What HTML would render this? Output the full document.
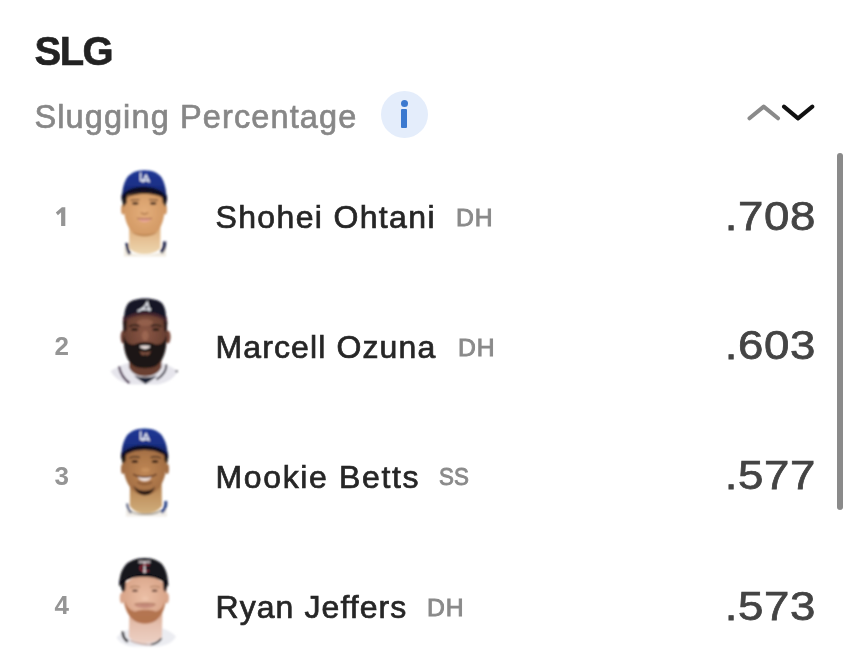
<!DOCTYPE html>
<html>
<head>
<meta charset="utf-8">
<title>SLG</title>
<style>
html,body{margin:0;padding:0;background:#fff;}
body{width:850px;height:664px;position:relative;overflow:hidden;font-family:"Liberation Sans",sans-serif;}
.t{position:absolute;white-space:nowrap;line-height:1;margin:0;padding:0;}
#title{left:34.6px;top:30.6px;font-size:40px;font-weight:bold;color:#222;letter-spacing:-1.6px;-webkit-text-stroke:0.6px #222;}
#sub{left:34.4px;top:100.7px;font-size:32.5px;color:#878787;-webkit-text-stroke:0.65px #878787;letter-spacing:1.12px;}
#info{position:absolute;left:380.6px;top:90.8px;width:47.4px;height:47.4px;border-radius:50%;background:#e4edfb;}
#info i{position:absolute;left:20.6px;top:18.4px;width:6px;height:19px;background:#3b79cf;border-radius:1px;}
#info b{position:absolute;left:20px;top:9.2px;width:7.2px;height:7.2px;border-radius:50%;background:#3b79cf;}
#arrows{position:absolute;left:740px;top:98px;}
#scroll{position:absolute;left:837px;top:153px;width:6px;height:357px;border-radius:3px;background:#8a8a8a;}
.rank{font-size:26px;font-weight:bold;color:#959595;left:54.6px;}
.name{font-size:32px;color:#262626;left:215.5px;-webkit-text-stroke:0.7px #262626;letter-spacing:1.35px;}
.pos{font-size:23.5px;color:#8a8a8a;letter-spacing:1px;transform:scaleX(1.05);transform-origin:0 0;-webkit-text-stroke:0.9px #8a8a8a;}
.val{font-size:41.5px;color:#444;-webkit-text-stroke:0.75px #444;letter-spacing:0.6px;right:34px;transform:scaleX(1.1);transform-origin:100% 0;}
.t,#arrows,#info,#r1{filter:blur(0.45px);}
</style>
</head>
<body>
<div class="t" id="title">SLG</div>
<div class="t" id="sub">Slugging Percentage</div>
<div id="info"><b></b><i></i></div>
<svg id="arrows" width="90" height="40" viewBox="740 98 90 40">
  <polyline points="749.5,118.3 763.7,106.6 778,118.3" fill="none" stroke="#8a8a8a" stroke-width="4" stroke-linecap="round" stroke-linejoin="round"/>
  <polyline points="784,106.6 798,118.4 812.3,106.6" fill="none" stroke="#111" stroke-width="4" stroke-linecap="round" stroke-linejoin="round"/>
</svg>
<div id="scroll"></div>

<svg id="r1" width="30" height="40" viewBox="45 195 30 40" style="position:absolute;left:45px;top:195px"><path d="M65.3,207.3 L65.3,226 L61.1,226 L61.1,212.3 L57.9,215.3 L55.8,212.5 L61.9,207.3 Z" fill="#959595"/></svg>
<div class="t name" id="n1" style="top:201px">Shohei Ohtani</div>
<div class="t pos" id="p1" style="top:207.2px;left:455.8px">DH</div>
<div class="t val" id="v1" style="top:195px">.708</div>

<div class="t rank" id="r2" style="top:333px">2</div>
<div class="t name" id="n2" style="top:331px;letter-spacing:1.12px">Marcell Ozuna</div>
<div class="t pos" id="p2" style="top:337.2px;left:458px">DH</div>
<div class="t val" id="v2" style="top:324.4px">.603</div>

<div class="t rank" id="r3" style="top:463px">3</div>
<div class="t name" id="n3" style="top:461px;letter-spacing:1.65px">Mookie Betts</div>
<div class="t pos" id="p3" style="top:466.4px;left:439.3px;letter-spacing:0;transform:scaleX(0.95)">SS</div>
<div class="t val" id="v3" style="top:454.3px">.577</div>

<div class="t rank" id="r4" style="top:592.3px">4</div>
<div class="t name" id="n4" style="top:591px;letter-spacing:1.07px">Ryan Jeffers</div>
<div class="t pos" id="p4" style="top:597px;left:426.6px">DH</div>
<div class="t val" id="v4" style="top:584.5px">.573</div>
<svg id="heads" width="850" height="664" viewBox="0 0 850 664" style="position:absolute;left:0;top:0;pointer-events:none">
<defs>
  <filter id="bl" x="-10%" y="-10%" width="120%" height="120%"><feGaussianBlur stdDeviation="0.8"/></filter>
  <filter id="bl2" x="-10%" y="-10%" width="120%" height="120%"><feGaussianBlur stdDeviation="1.4"/></filter>
  <radialGradient id="sk1" cx="0.5" cy="0.5" r="0.6"><stop offset="0" stop-color="#e4ae7b"/><stop offset="1" stop-color="#cf9560"/></radialGradient>
  <linearGradient id="nk1" x1="0" y1="0" x2="0" y2="1"><stop offset="0" stop-color="#d9a775"/><stop offset="0.45" stop-color="#e4bc8e"/><stop offset="1" stop-color="#edd6b0"/></linearGradient>
  <linearGradient id="cp1" x1="0" y1="0" x2="0" y2="1"><stop offset="0" stop-color="#1e3794"/><stop offset="0.55" stop-color="#1a3088"/><stop offset="1" stop-color="#101e56"/></linearGradient>
  <radialGradient id="sk2" cx="0.5" cy="0.4" r="0.6"><stop offset="0" stop-color="#8c5846"/><stop offset="1" stop-color="#5f392c"/></radialGradient>
  <radialGradient id="sk3" cx="0.5" cy="0.5" r="0.6"><stop offset="0" stop-color="#bf8755"/><stop offset="1" stop-color="#9c683f"/></radialGradient>
  <linearGradient id="nk3" x1="0" y1="0" x2="0" y2="1"><stop offset="0" stop-color="#a97648"/><stop offset="0.4" stop-color="#c09260"/><stop offset="1" stop-color="#d0ae7c"/></linearGradient>
  <radialGradient id="sk4" cx="0.5" cy="0.45" r="0.6"><stop offset="0" stop-color="#ebbfa6"/><stop offset="1" stop-color="#d6a084"/></radialGradient>
  <linearGradient id="nk4" x1="0" y1="0" x2="0" y2="1"><stop offset="0" stop-color="#d9a98f"/><stop offset="0.4" stop-color="#e4bfad"/><stop offset="1" stop-color="#ecd0c4"/></linearGradient>
</defs>

<!-- 1: Ohtani -->
<g filter="url(#bl)">
  <path d="M127,251 C133,256 155,256 162,251 L166,246 L166,256.5 L124,256.5 L124,246 Z" fill="#f1ebe0"/>
  <path d="M126.8,243 C126.8,248 127.8,251.5 130,254" stroke="#2a2d52" stroke-width="3" fill="none"/>
  <path d="M164.6,241.5 C164.8,247 163.6,250 161,252.5" stroke="#2a2d52" stroke-width="3.4" fill="none"/>
  <path d="M129.2,222 L129.2,248 C135,256 154,256 160.4,248 L160.4,222 Z" fill="url(#nk1)"/>
  <ellipse cx="123" cy="209.5" rx="1.9" ry="5" fill="#cf9562"/>
  <ellipse cx="165.2" cy="209.5" rx="1.7" ry="5" fill="#cf9562"/>
  <path d="M123.5,199 C123,214 126,225 131,230.5 C135,235 140,236.5 144.7,236.5 C149.5,236.5 154,235 158,230.5 C163,225 165.5,214 164.8,199 C155,185 133,185 123.5,199 Z" fill="url(#sk1)"/>
  <path d="M131,231.5 C136,237.5 153,237.5 158,231.5 C153,235.5 136,235.5 131,231.5 Z" fill="#b98453"/>
  <path d="M121.6,196 L127.5,192 L126.6,203 L123.2,207 Z" fill="#241c1b"/>
  <path d="M161.5,192 L166.9,197 L165.8,207 L162.8,203 Z" fill="#241c1b"/>
  <path d="M126,198.5 C132,188.5 157,188.5 163,198.5 C157,192.5 132,192.5 126,198.5 Z" fill="#3a261c"/>
  <ellipse cx="135.3" cy="203.4" rx="3.2" ry="1.4" fill="#4e3122"/>
  <ellipse cx="153.2" cy="203.4" rx="3.2" ry="1.4" fill="#4e3122"/>
  <path d="M130.5,200.2 L139.5,199.6 M149,199.6 L158,200.2" stroke="#7a5236" stroke-width="1.2"/>
  <path d="M141,212.6 C142.5,214.6 146.5,214.6 148,212.6" stroke="#b07a4d" stroke-width="1.6" fill="none"/>
  <path d="M137.6,218.6 C141,217.6 148,217.6 151.6,218.6 C149,223.4 140,223.4 137.6,218.6 Z" fill="#e9a796"/>
  <path d="M137.2,218.4 C141,219.2 148,219.2 152,218.4" stroke="#9a5a45" stroke-width="1" fill="none"/>
  <path d="M121.6,201 C128,188.8 160,188.8 167,202 L167,196 C160,180 128,180 121.6,195 Z" fill="#0d1024"/>
  <path d="M122.1,196.5 C122.4,188 124,183 126,179.5 C129,173.5 136,170.3 144.5,170.3 C153,170.3 160,173.5 162.6,179.5 C164.6,183.5 166.2,189 166.5,197.5 C160,183 128,183 122.1,196.5 Z" fill="url(#cp1)"/>
  <path d="M140.6,172.6 L140.6,180.6 L144,180.6" stroke="#eef1fa" stroke-width="1.5" fill="none"/>
  <path d="M142.6,182.4 L146,175.2 L149.4,182.4 M143.4,180.6 L149,180.6" stroke="#eef1fa" stroke-width="1.5" fill="none"/>
</g>

<!-- 2: Ozuna -->
<g filter="url(#bl)">
  <path d="M110.5,371 C117,366.5 124,364 130,362.5 L160,362.5 C166,364 172,367 177.8,371 C175,377.5 168,382.5 158,384.5 L131,384.5 C121,382.5 113.5,377.5 110.5,371 Z" fill="#e6e5ec"/>
  <path d="M119,366.5 C120.5,374 124.5,379.5 129.5,383" stroke="#432a48" stroke-width="2.2" fill="none"/>
  <path d="M166.3,364.5 C166.5,371 162.5,376 156.5,379.5" stroke="#2a2836" stroke-width="2" fill="none"/>
  <circle cx="176.6" cy="371.3" r="1.1" fill="#3a3a44"/>
  <path d="M134,375.5 C138,379 141,381 145.5,384 C150,381 153.5,379 157,375.5 C151,378 140,378 134,375.5 Z" fill="#1d2236"/>
  <path d="M129.3,355 L129,367.5 C134,379.5 156,379.5 161.5,367.5 L161.5,355 Z" fill="#6b4131"/>
  <ellipse cx="123" cy="337" rx="2.4" ry="6.5" fill="#74463a"/>
  <ellipse cx="168" cy="337" rx="2.6" ry="6.5" fill="#7a4a3a"/>
  <path d="M124,320 C122.5,334 124,350 131,360 C137,367 153,367 159,360 C166,350 168,334 166.5,320 C156,309 134,309 124,320 Z" fill="url(#sk2)"/>
  <ellipse cx="145" cy="322.5" rx="8" ry="3.5" fill="#a26b55" opacity="0.6"/>
  <ellipse cx="145.2" cy="336" rx="3.3" ry="5" fill="#a06a55" opacity="0.8"/>
  <path d="M123.6,334 C123,350 126,359 132.5,365 C138,369.3 152,369.3 157.5,365 C164,359 167,350 166.6,334 C165,342 161,345.5 155,344.5 C151,341.5 139,341.5 135,344.5 C129,345.5 125,342 123.6,334 Z" fill="#1a1212"/>
  <path d="M139.6,346.3 C142,345.2 148,345.2 150.4,346.3 C148.5,349.8 141.5,349.8 139.6,346.3 Z" fill="#efe3e1"/>
  <path d="M139.5,351 C141,355.5 143.5,357 145,354 C146.5,357 149.5,355.5 151,351 C148,352.5 142.5,352.5 139.5,351Z" fill="#7a4e3e"/>
  <ellipse cx="134.6" cy="329.6" rx="3.4" ry="1.5" fill="#2a1a16"/>
  <ellipse cx="155.8" cy="329.6" rx="3.4" ry="1.5" fill="#2a1a16"/>
  <path d="M129,326.5 C132,324.8 136,324.8 139.5,326 M151,326 C154.5,324.8 158.5,324.8 161.5,326.5" stroke="#2b1a17" stroke-width="1.6" fill="none"/>
  <path d="M122.8,321 L127,318 L126.6,330 L123.6,333 Z" fill="#2a1a1a"/>
  <path d="M163.5,318 L167.4,321 L166.8,333 L164,330 Z" fill="#2a1a1a"/>
  <path d="M122.8,323.5 C130,312.5 160,312.5 167.2,323.5 L166.8,317 C159,307.5 131,307.5 123.2,317 Z" fill="#46262d"/>
  <path d="M124.2,319 C124,312 125.5,307 128,303.5 C131.5,300 138,298.6 145,298.6 C152.5,298.6 159,300 162.3,303.5 C165,307 166.2,312 166,319 C158,309.5 132,309.5 124.2,319 Z" fill="#161827"/>
  <path d="M137.5,311.3 C142.5,309.5 145.5,306.5 147.2,302.6 L149.6,311.3 M140.5,309.2 L151,309.2" stroke="#e8eaf2" stroke-width="1.6" fill="none"/>
</g>

<!-- 3: Betts -->
<g filter="url(#bl)">
  <path d="M126,509 C133,516 157,516 166,507 L167,516.5 L126,516.5 Z" fill="#f0ece6"/>
  <path d="M165.6,501 C166.4,505.5 165.2,509 161.5,512.5" stroke="#2c4488" stroke-width="3" fill="none"/>
  <path d="M127.2,503.5 C127.4,508 128.6,510.5 131,513" stroke="#5a6280" stroke-width="2.2" fill="none"/>
  <path d="M130,482 L129.8,506 C136,516 155,516 162,506 L161.6,482 Z" fill="url(#nk3)"/>
  <path d="M130.5,511 C137,515.5 154,515.5 161,510.5" stroke="#6d6350" stroke-width="1.3" fill="none" opacity="0.8"/>
  <ellipse cx="122.8" cy="469" rx="1.8" ry="5" fill="#a06c45"/>
  <ellipse cx="167.2" cy="469" rx="1.8" ry="5" fill="#a06c45"/>
  <path d="M123,457 C122.3,471 125.5,482 131,488.5 C135,493 140,495.5 145,495.5 C150,495.5 154.5,493 158.5,488.5 C164,482 167.4,471 166.8,457 C157,444 133,444 123,457 Z" fill="url(#sk3)"/>
  <path d="M133.3,485.5 C135,491 140,495.3 145,495.3 C150,495.3 153.5,491.5 155,486.5 C152,490 148.5,490.8 145,490.8 C141,490.8 136.5,489.5 133.3,485.5 Z" fill="#2f1d14"/>
  <path d="M137.4,476.6 C141,478 148,478 151.8,476.6 C149.5,482.6 140,482.6 137.4,476.6 Z" fill="#f2e4df"/>
  <path d="M133.3,474.2 C135.5,476 140,477 144.6,477 C149,477 154,476 156.4,474.2" stroke="#5e3520" stroke-width="1.6" fill="none"/>
  <path d="M137.5,482 C141,485 148.5,485 152,482" stroke="#7a4a2e" stroke-width="1.5" fill="none"/>
  <ellipse cx="145.5" cy="470" rx="4.2" ry="2.2" fill="#c9925e" opacity="0.8"/>
  <ellipse cx="134.8" cy="461.4" rx="3.2" ry="1.5" fill="#3a2418"/>
  <ellipse cx="155" cy="461.4" rx="3.2" ry="1.5" fill="#3a2418"/>
  <path d="M129.5,458.2 C132.5,456.4 136.5,456.4 140,457.6 M150.5,457.6 C154,456.4 158,456.4 160.8,458.2" stroke="#4a2f1f" stroke-width="1.4" fill="none"/>
  <path d="M121.2,455 L126.5,451 L125.6,461 L122.6,464 Z" fill="#241a19"/>
  <path d="M163.5,451 L168.2,455 L167.2,464 L164.6,461 Z" fill="#241a19"/>
  <path d="M121,459.5 C128,446.8 161,446.8 168.2,459.5 L168,453 C160,439 129,439 121.3,453 Z" fill="#0d1024"/>
  <path d="M121.5,455 C121.8,447 123.4,441.5 125.6,437.8 C128.5,431.8 136,428.6 144.6,428.6 C153.3,428.6 160.6,431.8 163.2,437.8 C165.6,441.8 167.4,447 167.8,455.5 C161,442 128,442 121.5,455 Z" fill="url(#cp1)"/>
  <path d="M140.6,431.2 L140.6,439.2 L144,439.2" stroke="#eef1fa" stroke-width="1.5" fill="none"/>
  <path d="M142.6,441 L146,433.8 L149.4,441 M143.4,439.2 L149,439.2" stroke="#eef1fa" stroke-width="1.5" fill="none"/>
</g>

<!-- 4: Jeffers -->
<g filter="url(#bl)">
  <path d="M116.5,637.5 C121,632.5 126,630 131,629 L160,627.5 C166,629 172,632 176,636.5 C173,642.5 166,645.5 158,646.5 L133,646.5 C126,646 120,643 116.5,637.5 Z" fill="#ebecf1"/>
  <path d="M122.8,631.5 C122.6,636 124.5,639.5 128,641.5" stroke="#2a252b" stroke-width="2.6" fill="none"/>
  <path d="M150.5,644.6 C155,644.2 159,642 161.5,638" stroke="#2f2a2e" stroke-width="1.9" fill="none"/>
  <path d="M129.5,612 L128.8,637 C135,645.5 154,645.5 162,637 L162.3,612 Z" fill="url(#nk4)"/>
  <path d="M130,640.5 C137,644.5 148,645 152,644.5" stroke="#b99a92" stroke-width="1.2" fill="none"/>
  <ellipse cx="122" cy="598" rx="2.2" ry="5.5" fill="#d9a78e"/>
  <ellipse cx="166.8" cy="598" rx="2.2" ry="5.5" fill="#d9a78e"/>
  <path d="M122.6,587 C122,601 125,611 130.5,617 C134.5,621.5 140,624 145.2,624 C150.5,624 155,621.5 159,617 C164.5,611 167,601 166.5,587 C157,572 132,572 122.6,587 Z" fill="url(#sk4)"/>
  <path d="M124.3,600 C125.5,610 128.5,616 134,620.5 C139.5,624.5 150.5,624.5 156,620.5 C161.5,616 164.4,610 165.5,600 C163,608 159.5,611 155.5,611.5 C152,609 139,609 135.5,611.5 C131,611 127,608 124.3,600 Z" fill="#a8653f" opacity="0.78"/>
  <path d="M135,605.6 C139,603.6 151,603.6 155,605.6 C151,609.2 139,609.2 135,605.6 Z" fill="#c58a7a"/>
  <path d="M134.5,604.5 C139,602.8 151,602.8 155.5,604.5" stroke="#a0664e" stroke-width="1.1" fill="none"/>
  <ellipse cx="145.3" cy="598.5" rx="3.2" ry="2" fill="#edc3ab" opacity="0.9"/>
  <ellipse cx="135" cy="590.8" rx="3" ry="1.3" fill="#6e4c3e"/>
  <ellipse cx="154.6" cy="590.8" rx="3" ry="1.3" fill="#6e4c3e"/>
  <path d="M130,587.6 C133,586.2 137,586.2 140,587.2 M150,587.2 C153,586.2 157,586.2 160,587.6" stroke="#b08263" stroke-width="1.2" fill="none"/>
  <path d="M119.6,583 L126,579 L125.2,590 L122.8,592.5 Z" fill="#17141a"/>
  <path d="M162.5,579 L167.8,583 L165.6,592.5 L163.6,590 Z" fill="#17141a"/>
  <path d="M119,586.5 C127,573.5 160,573.5 168.3,586.5 L168,581 C160,568 127,568 119.3,581 Z" fill="#101015"/>
  <path d="M119.4,583 C119.8,575 121.8,570 124.4,566.5 C128,561 136,558 144.6,558 C153.2,558 160.5,561 163.6,566.5 C166,570.5 167.6,575 168,583 C161,570.5 127,570.5 119.4,583 Z" fill="#19181f"/>
  <path d="M138.6,562 L150.4,562 M144.6,562 L144.6,572" stroke="#ebe1e4" stroke-width="1.7" fill="none"/>
  <path d="M149.5,565.2 C146,563.8 140.4,565 140.4,568 C140.4,571 145.5,572 149,570.6" stroke="#8e2735" stroke-width="1.6" fill="none"/>
  <circle cx="144.6" cy="571.6" r="1.3" fill="#efe6e8"/>
</g>
</svg>
</body>
</html>
